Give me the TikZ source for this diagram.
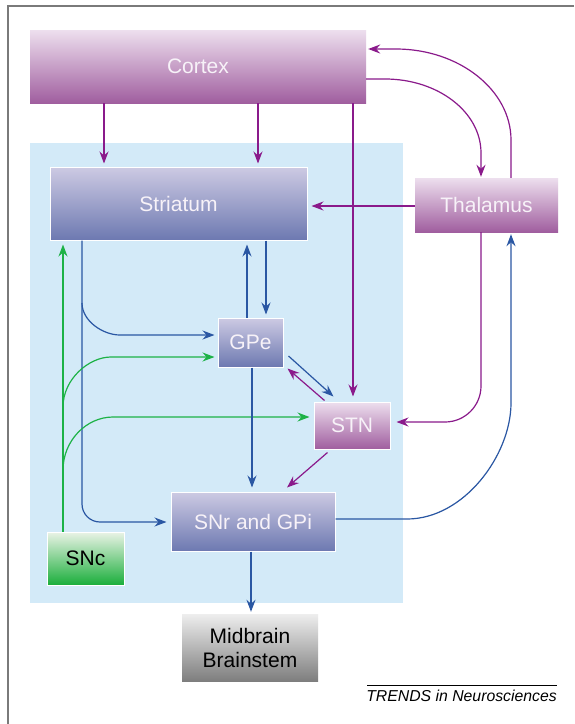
\documentclass[tikz,border=0pt]{standalone}
\usepackage{fontspec}
\setmainfont{Liberation Sans}
\usetikzlibrary{arrows.meta,calc}
\definecolor{bgblue}{HTML}{D3EAF8}
\definecolor{pTop}{HTML}{EDDFEE}
\definecolor{pBot}{HTML}{A05E9F}
\definecolor{bTop}{HTML}{CDCAE3}
\definecolor{bBot}{HTML}{6D79B1}
\definecolor{gTop}{HTML}{EAF3E6}
\definecolor{gBot}{HTML}{1AAE3B}
\definecolor{mTop}{HTML}{EEEEEE}
\definecolor{mBot}{HTML}{7E7E7E}
\definecolor{purp}{HTML}{8A1A8B}
\definecolor{blu}{HTML}{2A57A3}
\definecolor{grn}{HTML}{1DB247}
\definecolor{frame}{HTML}{7A7A7A}
\definecolor{wtext}{HTML}{F7F2F8}
\begin{document}
\begin{tikzpicture}[x=1pt,y=-1pt,
  lab/.style={font=\fontsize{21}{24}\selectfont, inner sep=0pt, align=center},
  pbox/.style={lab, top color=pTop, bottom color=pBot, text=wtext},
  bbox/.style={lab, top color=bTop, bottom color=bBot, text=wtext, draw=white, line width=1pt},
  arr/.style={line width=1.2pt, -{Stealth[length=12pt,width=9pt,inset=4pt]}, shorten >=3pt},
  parr/.style={arr, draw=purp},
  barr/.style={arr, draw=blu},
  garr/.style={arr, draw=grn}]
\useasboundingbox (0,0) rectangle (574,724);
\fill[white] (0,0) rectangle (574,724);
\draw[frame, line width=1.5pt] (574,6) -- (8,6) -- (8,724);
\fill[bgblue] (30,143) rectangle (403,603);

\node[pbox, minimum width=336pt, minimum height=73pt] (Cortex) at (198,66.5) {Cortex};
\node[bbox, minimum width=257pt, minimum height=73pt] (Striatum) at (178.5,203.5) {Striatum};
\node[pbox, minimum width=143pt, minimum height=54pt] (Thalamus) at (486.5,205) {Thalamus};
\node[bbox, minimum width=65pt, minimum height=49pt] (GPe) at (250.5,342.5) {GPe};
\node[pbox, draw=white, line width=1pt, minimum width=76pt, minimum height=47pt] (STN) at (352,425.5) {STN};
\node[bbox, minimum width=164pt, minimum height=59pt] (SNr) at (253,521.5) {SNr and GPi};
\node[lab, top color=gTop, bottom color=gBot, text=black, draw=white, line width=1pt, minimum width=77pt, minimum height=53pt] (SNc) at (85.5,558.5) {SNc};
\node[lab, top color=mTop, bottom color=mBot, text=black, minimum width=136pt, minimum height=67pt] (Mid) at (250,647.5) {Midbrain\\Brainstem};

% cortex outputs
\draw[parr] (104,0 |- Cortex.south) -- (104,0 |- Striatum.north);
\draw[parr] (258,0 |- Cortex.south) -- (258,0 |- Striatum.north);
\draw[parr, shorten >=5pt] (353,0 |- Cortex.south) -- (353,0 |- STN.north);
\draw[parr, shorten >=1pt] (Cortex.east |- 0,79) -- (385,79) .. controls (438,79) and (481,112) .. (481,153) -- (481,0 |- Thalamus.north);
% thalamus outputs
\draw[parr, shorten >=2pt] (511,0 |- Thalamus.north) -- (511,140) .. controls (511,90) and (459,49) .. (396,49) -- (Cortex.east |- 0,49);
\draw[parr, shorten >=4pt] (Thalamus.west |- 0,206) -- (Striatum.east |- 0,206);
\draw[parr, rounded corners=36pt, shorten >=6pt] (481,0 |- Thalamus.south) |- (STN.east |- 0,422);
% SNr to thalamus
\draw[barr, shorten >=2pt] (SNr.east |- 0,519) -- (407,519) .. controls (464,519) and (511,455) .. (511,403) -- (511,0 |- Thalamus.south);
% striatum <-> GPe
\draw[barr] (266,0 |- Striatum.south) -- (266,0 |- GPe.north);
\draw[barr, shorten >=4pt] (247,0 |- GPe.north) -- (247,0 |- Striatum.south);
\draw[barr, rounded corners=18pt, shorten >=4pt] (82,0 |- Striatum.south) |- (SNr.west |- 0,522);
\draw[barr] (82,303) .. controls (82,321) and (103,335) .. (120,335) -- (GPe.west |- 0,335);
% SNc
\draw[garr, shorten >=4pt] (63,0 |- SNc.north) -- (63,0 |- Striatum.south);
\draw[garr] (63,407) .. controls (63,379) and (89,357) .. (111,357) -- (GPe.west |- 0,357);
\draw[garr, shorten >=4pt] (63,470) .. controls (63,441) and (86,417) .. (113,417) -- (STN.west |- 0,417);
% GPe, STN, SNr
\draw[barr, shorten >=4pt] (252,0 |- GPe.south) -- (252,0 |- SNr.north);
\draw[barr, shorten >=0pt] ($(GPe.east)+(5,13.5)$) -- ($(STN.north west)+(20,-5)$);
\draw[parr, shorten >=0pt] ($(STN.north west)+(11,-1)$) -- ($(GPe.south east)+(4,1)$);
\draw[parr, shorten >=0pt] ($(STN.south west)+(14,3)$) -- ($(SNr.north)+(34,-4)$);
\draw[barr, shorten >=2pt] (251,0 |- SNr.south) -- (251,0 |- Mid.north);

% credit
\draw[black, line width=0.8pt] (367,685) coordinate (c1) -- (557,685) coordinate (c2);
\node[anchor=east, inner sep=0pt, font=\itshape\fontsize{15.8}{18}\selectfont] (trends) at (557,696) {TRENDS in Neurosciences};
\end{tikzpicture}
\end{document}
